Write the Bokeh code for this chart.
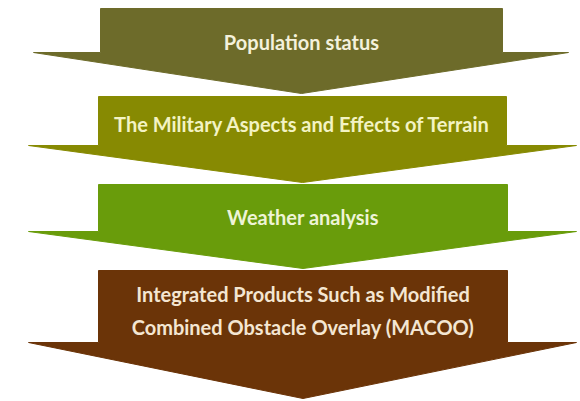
from bokeh.plotting import figure
from bokeh.models import Range1d, ColumnDataSource
from bokeh.core.properties import value
from bokeh.embed import file_html
from bokeh.resources import INLINE

# ---- data ----
stage_labels = [
    ["Population status"],
    ["The Military Aspects and Effects of Terrain"],
    ["Weather analysis"],
    ["Integrated Products Such as Modified", "Combined Obstacle Overlay (MACOO)"],
]
stage_colors = ["#6d6b2a", "#878a02", "#699c0b", "#6b3408"]
text_colors = ["#f4f1dc", "#f3f3c4", "#eef4d6", "#f4e6d2"]

# ---- layout (image pixel coordinates) ----
arrow_top = [8, 96, 184, 270]
arrow_wing = [52, 145, 231, 342]
arrow_tip = [93, 182, 268, 398]
body_left = [100, 98, 98, 98]
body_right = [502, 506, 507, 507]
wing_left = [33, 28, 28, 28]
wing_right = [568, 576, 576, 576]
text_y = [[41], [123], [216], [293, 326]]

W, H = 580, 401
p = figure(width=W, height=H, output_backend="svg", toolbar_location=None,
           x_range=Range1d(0, W), y_range=Range1d(H, 0),
           min_border=0, border_fill_color="white", background_fill_color="white")
p.axis.visible = False
p.grid.visible = False
p.outline_line_color = None

xs, ys = [], []
for i in range(len(stage_labels)):
    cx = (body_left[i] + body_right[i]) / 2
    xs.append([body_left[i], body_right[i], body_right[i], wing_right[i], cx,
               wing_left[i], body_left[i]])
    ys.append([arrow_top[i], arrow_top[i], arrow_wing[i], arrow_wing[i], arrow_tip[i],
               arrow_wing[i], arrow_wing[i]])

p.patches(xs="xs", ys="ys", fill_color="color", line_color="color", line_width=1,
          source=ColumnDataSource(dict(xs=xs, ys=ys, color=stage_colors)))

tx, ty, tt, tc = [], [], [], []
for i, lines in enumerate(stage_labels):
    cx = (body_left[i] + body_right[i]) / 2
    for j, line in enumerate(lines):
        tx.append(cx)
        ty.append(text_y[i][j])
        tt.append(line)
        tc.append(text_colors[i])

p.text(x="x", y="y", text="t", text_color="c",
       source=ColumnDataSource(dict(x=tx, y=ty, t=tt, c=tc)),
       text_font=value("Lato"), text_font_style="bold", text_font_size="20px",
       text_align="center", text_baseline="middle")

open("out.html", "w").write(file_html(p, INLINE))
